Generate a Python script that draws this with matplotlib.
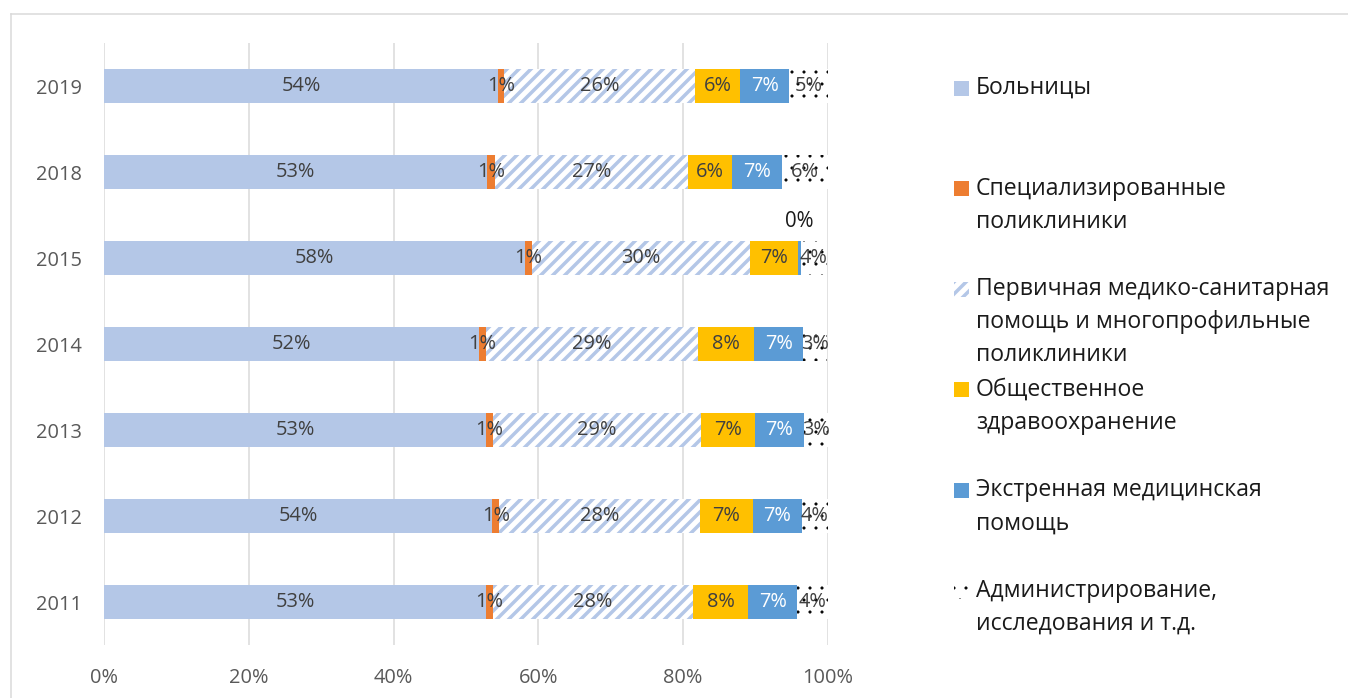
import numpy as np
import matplotlib.pyplot as plt
from matplotlib.lines import Line2D
from matplotlib.patches import Rectangle

plt.rcParams['font.family'] = ['Open Sans', 'DejaVu Sans']

#region Data (shares in %)
years = ['2011', '2012', '2013', '2014', '2015', '2018', '2019']
hospitals = [52.7, 53.6, 52.7, 51.8, 58.1, 52.9, 54.4]
specialized = [1.0, 1.0, 1.0, 0.9, 1.0, 1.1, 0.9]
primary = [27.7, 27.7, 28.8, 29.4, 30.2, 26.7, 26.4]
public_health = [7.6, 7.4, 7.4, 7.7, 6.6, 6.1, 6.2]
emergency = [6.8, 6.7, 6.8, 6.8, 0.4, 6.9, 6.8]
admin = [4.3, 3.6, 3.4, 3.3, 3.6, 6.4, 5.4]

labels = ['Больницы',
          'Специализированные\nполиклиники',
          'Первичная медико-санитарная\nпомощь и многопрофильные\nполиклиники',
          'Общественное\nздравоохранение',
          'Экстренная медицинская\nпомощь',
          'Администрирование,\nисследования и т.д.']
#endregion

# face, hatch colour, hatch, hatch linewidth, label colour
styles = [
    dict(fc='#b4c7e7', ec='#b4c7e7', hatch=None, hlw=1, tc='#404040'),
    dict(fc='#ed7d31', ec='#ed7d31', hatch=None, hlw=1, tc='#404040'),
    dict(fc='white', ec='#b4c7e7', hatch='//', hlw=3.5, tc='#404040'),
    dict(fc='#ffc000', ec='#ffc000', hatch=None, hlw=1, tc='#404040'),
    dict(fc='#5b9bd5', ec='#5b9bd5', hatch=None, hlw=1, tc='white'),
    dict(fc='white', ec='black', hatch='.', hlw=0.6, tc='#404040'),
]
series = [hospitals, specialized, primary, public_health, emergency, admin]

W, H = 1348, 698
fig = plt.figure(figsize=(W/72, H/72), dpi=72)
ax = fig.add_axes([104.3/W, (H-645)/H, 723.5/W, 602/H])

y = np.arange(len(years))
left = np.zeros(len(years))
for vals, st in zip(series, styles):
    vals = np.array(vals)
    plt.rcParams['hatch.linewidth'] = st['hlw']
    ax.barh(y, vals, left=left, height=0.4, color=st['fc'], edgecolor=st['ec'],
            hatch=st['hatch'], linewidth=0, zorder=2)
    for i, v in enumerate(vals):
        if v < 0.5:
            # tiny segment: label sits above the bar
            ax.text(left[i] + v/2, i + 0.42, f'{v:.0f}%', ha='center', va='center',
                    fontsize=20.5, color='#1a1a1a', zorder=3)
        else:
            ax.text(left[i] + v/2, i, f'{v:.0f}%', ha='center', va='center',
                    fontsize=20, color=st['tc'], zorder=3)
    left += vals

ax.set_xlim(0, 100)
ax.set_ylim(-0.5, len(years) - 0.5)
ax.set_xticks(np.arange(0, 101, 20))
ax.set_xticklabels([f'{t}%' for t in range(0, 101, 20)])
ax.set_yticks(y)
ax.set_yticklabels(years)
ax.tick_params(axis='both', length=0, labelsize=20, labelcolor='#595959')
ax.tick_params(axis='y', pad=22)
ax.tick_params(axis='x', pad=23)
ax.grid(axis='x', color='#d9d9d9', linewidth=1.5, zorder=0)
ax.set_axisbelow(True)
for s in ax.spines.values():
    s.set_visible(False)

# legend, drawn by hand so the entries keep an even pitch
pitch = 100.6
line_h = 33
for k, (lab, st) in enumerate(zip(labels, styles)):
    yc = 88 + k * pitch
    plt.rcParams['hatch.linewidth'] = st['hlw']
    fig.add_artist(Rectangle((954/W, (H - yc - 7.5)/H), 15/W, 15/H, transform=fig.transFigure,
                             facecolor=st['fc'], edgecolor=st['ec'], hatch=st['hatch'], linewidth=0))
    for j, line in enumerate(lab.split('\n')):
        fig.text(976/W, (H - yc - j*line_h)/H, line, ha='left', va='center',
                 fontsize=23, color='#1a1a1a')

# chart area border
fig.add_artist(Line2D([11/W, 11/W], [0, (H-14)/H], transform=fig.transFigure, color='#d9d9d9', lw=1.5))
fig.add_artist(Line2D([11/W, 1], [(H-14)/H, (H-14)/H], transform=fig.transFigure, color='#d9d9d9', lw=1.5))

fig.savefig('out.png', dpi=72)
